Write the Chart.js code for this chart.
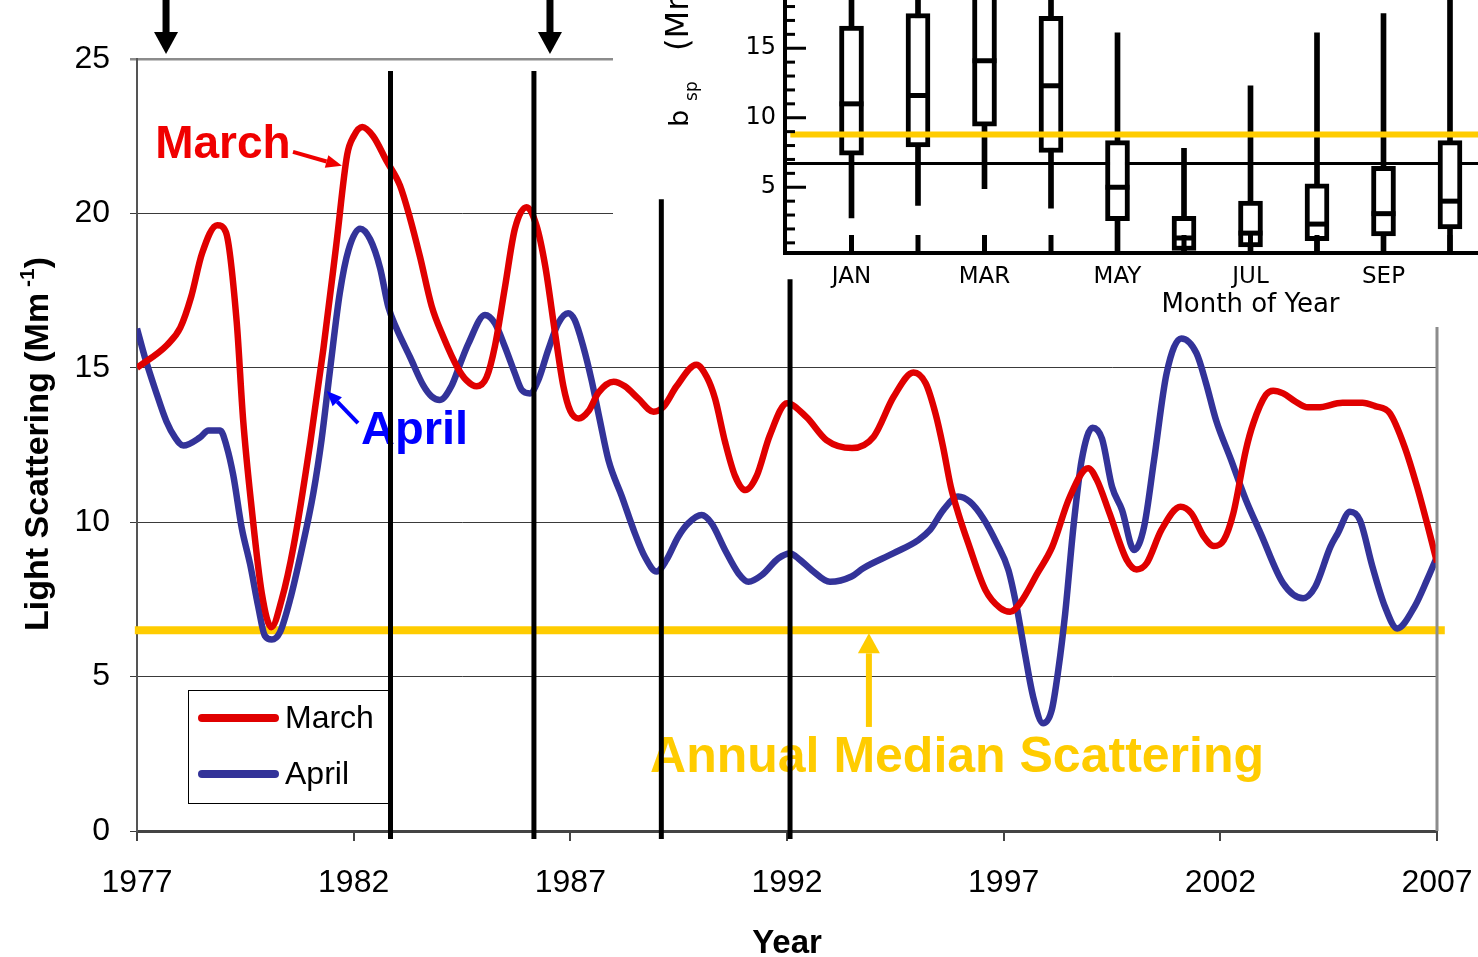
<!DOCTYPE html>
<html>
<head>
<meta charset="utf-8">
<script src="https://cdn.jsdelivr.net/npm/chart.js@4.4.1/dist/chart.umd.min.js"></script>
<style>
html,body{margin:0;padding:0;background:#fff;overflow:hidden;}
#wrap{position:relative;width:1478px;height:957px;overflow:hidden;background:#fff;}
#main{position:absolute;left:0;top:0;}
#inset{position:absolute;left:613px;top:0;background:#fff;}
#over{position:absolute;left:0;top:0;pointer-events:none;}
</style>
</head>
<body>
<div id="wrap">
<canvas id="main" width="1478" height="957"></canvas>
<canvas id="inset" width="1110" height="327"></canvas>
<canvas id="over" width="1478" height="957"></canvas>
</div>
<script>
// ---------------- main chart data ----------------
const yearTicks = [1977, 1982, 1987, 1992, 1997, 2002, 2007];
const valueTicks = [0, 5, 10, 15, 20, 25];

const marchYears = [
  1977.0, 1977.7, 1978.0, 1978.25, 1978.5, 1978.85, 1979.05, 1979.3, 1979.45, 1979.65,
  1979.88, 1980.1, 1980.34, 1980.61, 1981.0, 1981.3, 1981.6, 1981.85, 1982.0, 1982.2,
  1982.45, 1982.76, 1983.07, 1983.3, 1983.53, 1983.8, 1984.07, 1984.4, 1984.6, 1984.84,
  1985.07, 1985.26, 1985.49, 1985.72, 1985.99, 1986.22, 1986.42, 1986.65, 1986.84, 1987.0,
  1987.19, 1987.42, 1987.65, 1988.0, 1988.26, 1988.57, 1988.92, 1989.15, 1989.45, 1989.91,
  1990.15, 1990.34, 1990.57, 1990.8, 1991.04, 1991.3, 1991.6, 1992.0, 1992.45, 1992.91,
  1993.5, 1994.0, 1994.46, 1994.92, 1995.2, 1995.43, 1995.6, 1995.78, 1995.95, 1996.18,
  1996.58, 1996.92, 1997.15, 1997.38, 1997.78, 1998.12, 1998.52, 1998.95, 1999.15, 1999.44,
  1999.84, 2000.07, 2000.3, 2000.64, 2001.08, 2001.33, 2001.62, 2001.85, 2002.08, 2002.3,
  2002.59, 2002.76, 2003.05, 2003.22, 2003.45, 2003.74, 2004.02, 2004.25, 2004.82, 2005.28,
  2005.57, 2005.91, 2006.25, 2006.54, 2006.83, 2007.0
];
const marchValues = [
  15.0, 15.75, 16.3, 17.3, 18.7, 19.62, 19.4, 16.5, 13.3, 10.4,
  7.7, 6.6, 7.5, 9.2, 12.6, 15.6, 19.0, 21.9, 22.5, 22.8,
  22.5, 21.7, 20.9, 19.85, 18.6, 17.0, 16.0, 15.0, 14.6, 14.4,
  14.7, 15.7, 17.6, 19.5, 20.2, 19.6, 18.3, 16.1, 14.4, 13.6,
  13.36, 13.6, 14.2, 14.55, 14.4, 14.0, 13.58, 13.74, 14.4, 15.1,
  14.7, 14.0, 12.6, 11.5, 11.04, 11.5, 12.8, 13.85, 13.4, 12.66,
  12.4, 12.77, 14.06, 14.85, 14.5, 13.5, 12.45, 11.15, 10.3, 9.33,
  7.8, 7.22, 7.1, 7.38, 8.35, 9.2, 10.8, 11.75, 11.37, 10.3,
  8.78, 8.47, 8.67, 9.75, 10.5, 10.29, 9.53, 9.23, 9.42, 10.29,
  12.34, 13.2, 14.12, 14.26, 14.17, 13.9, 13.72, 13.72, 13.87, 13.87,
  13.76, 13.53, 12.45, 11.15, 9.64, 8.7
];

const aprilYears = [
  1977.0, 1977.18, 1977.42, 1977.68, 1977.88, 1978.07, 1978.45, 1978.65, 1978.92, 1979.07,
  1979.22, 1979.42, 1979.61, 1979.8, 1979.95, 1980.11, 1980.3, 1980.53, 1980.8, 1981.07,
  1981.26, 1981.45, 1981.68, 1981.88, 1982.15, 1982.38, 1982.61, 1982.8, 1982.99, 1983.3,
  1983.61, 1983.8, 1983.99, 1984.26, 1984.45, 1984.65, 1985.03, 1985.26, 1985.49, 1985.72,
  1985.88, 1986.07, 1986.26, 1986.49, 1986.72, 1986.95, 1987.1, 1987.3, 1987.49, 1987.68,
  1987.88, 1988.19, 1988.49, 1988.72, 1988.99, 1989.22, 1989.49, 1989.72, 1990.03, 1990.26,
  1990.57, 1990.88, 1991.11, 1991.42, 1991.8, 1992.07, 1992.3, 1992.57, 1992.99, 1993.49,
  1993.76, 1994.45, 1995.03, 1995.3, 1995.61, 1995.95, 1996.22, 1996.53, 1996.84, 1997.11,
  1997.3, 1997.49, 1997.68, 1997.91, 1998.11, 1998.26, 1998.42, 1998.61, 1998.8, 1999.05,
  1999.27, 1999.5, 1999.73, 2000.01, 2000.24, 2000.47, 2000.76, 2001.1, 2001.45, 2001.67,
  2001.9, 2002.25, 2002.59, 2002.93, 2003.45, 2003.91, 2004.19, 2004.54, 2004.71, 2004.99,
  2005.22, 2005.51, 2005.8, 2006.08, 2006.48, 2006.77, 2007.0
];
const aprilValues = [
  16.27, 15.35, 14.3, 13.26, 12.74, 12.48, 12.74, 12.97, 12.97, 12.45,
  11.53, 9.79, 8.64, 7.25, 6.32, 6.2, 6.44, 7.48, 9.1, 10.95,
  12.68, 14.88, 17.42, 18.81, 19.5, 19.16, 18.23, 16.97, 16.27, 15.35,
  14.42, 14.07, 13.96, 14.42, 15.1, 15.79, 16.71, 16.44, 15.68, 14.82,
  14.28, 14.17, 14.6, 15.58, 16.44, 16.77, 16.55, 15.68, 14.6, 13.31,
  12.01, 10.83, 9.64, 8.88, 8.4, 8.78, 9.53, 9.96, 10.23, 9.96,
  9.1, 8.34, 8.07, 8.29, 8.83, 8.99, 8.78, 8.45, 8.07, 8.24,
  8.51, 8.99, 9.42, 9.75, 10.4, 10.83, 10.66, 10.12, 9.32, 8.45,
  7.26, 5.75, 4.35, 3.49, 3.92, 5.21, 7.05, 9.85, 12.01, 13.06,
  12.7, 11.15, 10.4, 9.1, 9.85, 12.01, 14.82, 15.95, 15.47, 14.5,
  13.31, 12.01, 10.72, 9.64, 8.02, 7.54, 7.91, 9.2, 9.64, 10.34,
  10.07, 8.56, 7.26, 6.56, 7.26, 8.13, 8.88
];

const medianScattering = 6.5;
const medianSpan = [1976.95, 2007.18];
const eventYears = [1982.85, 1986.16, 1989.1, 1992.07];
const eventTops = [24.61, 24.61, 20.46, 17.87];
const eventBase = -0.26;
const topArrowYears = [1977.67, 1986.53];
const topArrowTip = 25.16;

// ---------------- inset (monthly box plot) data ----------------
const monthLabels = ['JAN','FEB','MAR','APR','MAY','JUN','JUL','AUG','SEP','OCT','NOV','DEC'];
const boxMonths = [1, 2, 3, 4, 5, 6, 7, 8, 9, 10];
const boxLow    = [2.8, 3.7, 4.9, 3.5, 0, 0, 0, 0, 0, 0];
const boxQ1     = [7.3, 7.9, 9.4, 7.5, 2.6, 0.45, 0.7, 1.15, 1.5, 2.0];
const boxMedian = [11.0, 11.6, 14.1, 12.3, 5.0, 1.35, 1.7, 2.35, 3.1, 4.0];
const boxQ3     = [16.6, 17.5, 19.5, 17.3, 8.35, 2.9, 4.0, 5.25, 6.5, 8.35];
const boxHigh   = [21, 21, 22, 21, 16.1, 7.8, 12.3, 16.1, 17.5, 21];
const insetMajorTicks = [5, 10, 15];
const insetYellowLevel = 8.8;
const insetBlackLevel = 6.7;

// ---------------- helpers ----------------
const FONT = "'Liberation Sans', Arial, sans-serif";
const PIX = "'DejaVu Sans', sans-serif";

function arrow(ctx, x1, y1, x2, y2, color, w, headLen, headW) {
  const a = Math.atan2(y2 - y1, x2 - x1);
  const bx = x2 - Math.cos(a) * headLen, by = y2 - Math.sin(a) * headLen;
  ctx.save();
  ctx.strokeStyle = color; ctx.lineWidth = w; ctx.lineCap = 'butt';
  ctx.beginPath(); ctx.moveTo(x1, y1); ctx.lineTo(bx, by); ctx.stroke();
  ctx.fillStyle = color;
  ctx.beginPath();
  ctx.moveTo(x2, y2);
  ctx.lineTo(bx + Math.sin(a) * headW / 2, by - Math.cos(a) * headW / 2);
  ctx.lineTo(bx - Math.sin(a) * headW / 2, by + Math.cos(a) * headW / 2);
  ctx.closePath(); ctx.fill();
  ctx.restore();
}

const mainDecor = {
  id: 'mainDecor',
  afterDatasetsDraw(chart) {
    const { ctx, chartArea: ca, scales: { x, y } } = chart;
    ctx.save();
    // right frame line
    ctx.strokeStyle = '#8c8c8c'; ctx.lineWidth = 3;
    ctx.beginPath(); ctx.moveTo(ca.right, ca.top); ctx.lineTo(ca.right, ca.bottom); ctx.stroke();

    // annotation labels
    ctx.textAlign = 'left'; ctx.textBaseline = 'alphabetic';
    ctx.font = 'bold 46px ' + FONT; ctx.fillStyle = '#F00000';
    ctx.fillText('March', x.getPixelForValue(1977.42), y.getPixelForValue(21.79));
    ctx.font = 'bold 47px ' + FONT; ctx.fillStyle = '#0000FF';
    ctx.fillText('April', x.getPixelForValue(1982.17), y.getPixelForValue(12.53));
    ctx.font = 'bold 50px ' + FONT; ctx.fillStyle = '#FFCC00';
    ctx.fillText('Annual Median Scattering', x.getPixelForValue(1988.84), y.getPixelForValue(1.91));

    arrow(ctx, x.getPixelForValue(1980.6), y.getPixelForValue(21.99),
      x.getPixelForValue(1981.73), y.getPixelForValue(21.54), '#F00000', 4, 16, 13);
    arrow(ctx, x.getPixelForValue(1982.1), y.getPixelForValue(13.21),
      x.getPixelForValue(1981.38), y.getPixelForValue(14.25), '#0000FF', 4, 15, 13);
    arrow(ctx, x.getPixelForValue(1993.89), y.getPixelForValue(3.37),
      x.getPixelForValue(1993.89), y.getPixelForValue(6.4), '#FFCC00', 6, 20, 22);

    // legend
    const lx = ca.left + 51, ly = ca.bottom - 141, lw = 200, lh = 113;
    ctx.fillStyle = '#fff'; ctx.fillRect(lx, ly, lw, lh);
    ctx.strokeStyle = '#000'; ctx.lineWidth = 1;
    ctx.strokeRect(lx + 0.5, ly + 0.5, lw, lh);
    const items = [chart.data.datasets[0], chart.data.datasets[1]];
    items.forEach((ds, i) => {
      const yy = ly + 28 + i * 56;
      ctx.strokeStyle = ds.borderColor; ctx.lineWidth = 8; ctx.lineCap = 'round';
      ctx.beginPath(); ctx.moveTo(lx + 14, yy); ctx.lineTo(lx + 87, yy); ctx.stroke();
      ctx.fillStyle = '#000'; ctx.font = '32px ' + FONT; ctx.textBaseline = 'alphabetic';
      ctx.fillText(ds.label, lx + 97, yy + 10);
    });
    ctx.restore();
  },
  afterDraw(chart) {
    const { ctx, chartArea: ca } = chart;
    ctx.save();
    ctx.fillStyle = '#000';
    ctx.font = 'bold 33px ' + FONT; ctx.textAlign = 'center'; ctx.textBaseline = 'middle';
    ctx.fillText('Year', (ca.left + ca.right) / 2, ca.bottom + 113);
    // rotated y title
    ctx.translate(ca.left - 89, (ca.top + ca.bottom) / 2 - 1);
    ctx.rotate(-Math.PI / 2);
    ctx.textAlign = 'left'; ctx.textBaseline = 'alphabetic';
    const big = 'bold 34px ' + FONT, small = 'bold 21px ' + FONT;
    const t1 = 'Light Scattering (Mm', t2 = ' -1', t3 = ')';
    ctx.font = big; const w1 = ctx.measureText(t1).width, w3 = ctx.measureText(t3).width;
    ctx.font = small; const w2 = ctx.measureText(t2).width;
    let sx = -(w1 + w2 + w3) / 2;
    ctx.font = big; ctx.fillText(t1, sx, 0); sx += w1;
    ctx.font = small; ctx.fillText(t2, sx, -14); sx += w2;
    ctx.font = big; ctx.fillText(t3, sx, 0);
    ctx.restore();
  }
};

new Chart(document.getElementById('main'), {
  type: 'line',
  data: {
    datasets: [
      { label: 'March', data: marchYears.map((yr, i) => ({ x: yr, y: marchValues[i] })),
        borderColor: '#E00000', borderWidth: 6.5, pointRadius: 0, cubicInterpolationMode: 'monotone',
        borderJoinStyle: 'round', order: 0 },
      { label: 'April', data: aprilYears.map((yr, i) => ({ x: yr, y: aprilValues[i] })),
        borderColor: '#333399', borderWidth: 6.5, pointRadius: 0, cubicInterpolationMode: 'monotone',
        borderJoinStyle: 'round', order: 1 },
      { label: 'Annual Median', data: medianSpan.map(yr => ({ x: yr, y: medianScattering })),
        borderColor: '#FFCC00', borderWidth: 8, pointRadius: 0, clip: false, order: 2 }
    ]
  },
  options: {
    responsive: false, animation: false, events: [],
    layout: { autoPadding: false, padding: { left: 0, right: 41, top: 59, bottom: 0 } },
    plugins: { legend: { display: false }, tooltip: { enabled: false } },
    scales: {
      x: {
        type: 'linear', min: 1977, max: 2007,
        afterBuildTicks: s => { s.ticks = yearTicks.map(v => ({ value: v })); },
        afterFit: s => { s.height = 126; s.paddingLeft = 0; s.paddingRight = 0; },
        ticks: { callback: v => String(v), font: { family: FONT, size: 32 }, color: '#000',
          padding: 23, maxRotation: 0, autoSkip: false },
        grid: { drawOnChartArea: false, drawTicks: true, tickLength: 10, color: '#444', lineWidth: 2 },
        border: { display: true, color: '#444', width: 3 }
      },
      y: {
        type: 'linear', min: 0, max: 25,
        afterBuildTicks: s => { s.ticks = valueTicks.map(v => ({ value: v })); },
        afterFit: s => { s.width = 137; s.paddingTop = 0; s.paddingBottom = 0; },
        ticks: { font: { family: FONT, size: 32 }, color: '#000', padding: 20 },
        grid: {
          color: c => (c.tick && c.tick.value === 25) ? '#8c8c8c' : '#3a3a3a',
          lineWidth: c => (c.tick && c.tick.value === 25) ? 2.5 : 1,
          tickLength: 7
        },
        border: { color: '#555', width: 2 }
      }
    }
  },
  plugins: [mainDecor]
});

// ---------------- inset chart ----------------
const insetDecor = {
  id: 'insetDecor',
  afterDatasetsDraw(chart) {
    const { ctx, chartArea: ca, scales: { x, y } } = chart;
    ctx.save();
    ctx.fillStyle = '#000';
    for (let v = 1; v <= 18; v++) {
      const py = y.getPixelForValue(v);
      const len = (v % 5 === 0) ? 21 : 10;
      ctx.fillRect(ca.left, py - 1.5, len, 3);
    }
    monthLabels.forEach((m, i) => {
      const px = x.getPixelForValue(i + 1);
      ctx.fillRect(px - 2.5, ca.bottom - 18, 5, 18);
    });
    // rotated axis title b_sp (Mm-1)
    ctx.translate(ca.left - 97, y.getPixelForValue(9.34));
    ctx.rotate(-Math.PI / 2);
    ctx.textAlign = 'left'; ctx.textBaseline = 'alphabetic';
    ctx.font = '27px ' + PIX; ctx.fillText('b', 0, 0);
    ctx.font = '17px ' + PIX; ctx.fillText('sp', 26, 9);
    ctx.font = '32px ' + PIX; ctx.fillText('(Mm', 76, 0);
    const w = ctx.measureText('(Mm').width;
    ctx.font = '17px ' + PIX; ctx.fillText('-1', 76 + w + 2, -14);
    ctx.restore();
  }
};

new Chart(document.getElementById('inset'), {
  type: 'bar',
  data: {
    datasets: [
      { type: 'line', label: 'level', data: [{ x: 0.08, y: insetYellowLevel }, { x: 14, y: insetYellowLevel }],
        borderColor: '#FFCC00', borderWidth: 6, pointRadius: 0, order: 0 },
      { type: 'line', label: 'median', data: boxMonths.map((m, i) => ({ x: m, y: boxMedian[i] })),
        showLine: false, pointStyle: 'line', pointRadius: 12, pointBorderWidth: 5,
        pointBorderColor: '#000', borderColor: '#000', order: 1 },
      { type: 'bar', label: 'box', data: boxMonths.map((m, i) => ({ x: m, y: [boxQ1[i], boxQ3[i]] })),
        backgroundColor: '#fff', borderColor: '#000', borderWidth: 5, borderSkipped: false,
        barThickness: 24, grouped: false, clip: 0, order: 2 },
      { type: 'bar', label: 'range', data: boxMonths.map((m, i) => ({ x: m, y: [boxLow[i], boxHigh[i]] })),
        backgroundColor: '#000', borderWidth: 0, barThickness: 5, grouped: false, clip: 0, order: 3 },
      { type: 'line', label: 'annual', data: [{ x: 0, y: insetBlackLevel }, { x: 14, y: insetBlackLevel }],
        borderColor: '#000', borderWidth: 3, pointRadius: 0, order: 4 }
    ]
  },
  options: {
    responsive: false, animation: false, events: [],
    layout: { autoPadding: false, padding: { left: 0, right: 7, top: 0, bottom: 0 } },
    plugins: { legend: { display: false }, tooltip: { enabled: false } },
    scales: {
      x: {
        type: 'linear', min: 0, max: 14, offset: false,
        afterBuildTicks: s => { s.ticks = monthLabels.map((m, i) => ({ value: i + 1 })); },
        afterFit: s => { s.height = 74; s.paddingLeft = 0; s.paddingRight = 0; },
        ticks: { autoSkip: false, maxRotation: 0, minRotation: 0,
          callback: (v, i) => (i % 2 === 0 ? monthLabels[i] : ''),
          font: { family: PIX, size: 23 }, color: '#000', padding: 10 },
        grid: { display: false, drawTicks: false },
        border: { display: true, color: '#000', width: 4 },
        title: { display: true, text: 'Month of Year', color: '#000',
          font: { family: PIX, size: 26 }, padding: { top: 0, bottom: 6 } }
      },
      y: {
        type: 'linear', min: 0.27, max: 18.47,
        afterBuildTicks: s => { s.ticks = insetMajorTicks.map(v => ({ value: v })); },
        afterFit: s => { s.width = 172; s.paddingTop = 0; s.paddingBottom = 0; },
        ticks: { font: { family: PIX, size: 24 }, color: '#000', padding: 9 },
        grid: { display: false, drawTicks: false },
        border: { display: true, color: '#000', width: 4 }
      }
    }
  },
  plugins: [insetDecor]
});

// ---------------- overlay: event lines & top arrows ----------------
const overDecor = {
  id: 'overDecor',
  afterDatasetsDraw(chart) {
    const { ctx, scales: { x, y } } = chart;
    topArrowYears.forEach(yr => {
      const px = x.getPixelForValue(yr);
      arrow(ctx, px, 0, px, y.getPixelForValue(topArrowTip), '#000', 7, 22, 24);
    });
  }
};

new Chart(document.getElementById('over'), {
  type: 'line',
  data: {
    datasets: eventYears.map((yr, i) => ({
      label: 'event' + i,
      data: [{ x: yr, y: eventBase }, { x: yr, y: eventTops[i] }],
      borderColor: '#000', borderWidth: 5, pointRadius: 0, clip: false, borderCapStyle: 'butt'
    }))
  },
  options: {
    responsive: false, animation: false, events: [],
    layout: { autoPadding: false, padding: { left: 137, right: 41, top: 59, bottom: 126 } },
    plugins: { legend: { display: false }, tooltip: { enabled: false } },
    scales: {
      x: { type: 'linear', min: 1977, max: 2007, display: false },
      y: { type: 'linear', min: 0, max: 25, display: false }
    }
  },
  plugins: [overDecor]
});
</script>
</body>
</html>
